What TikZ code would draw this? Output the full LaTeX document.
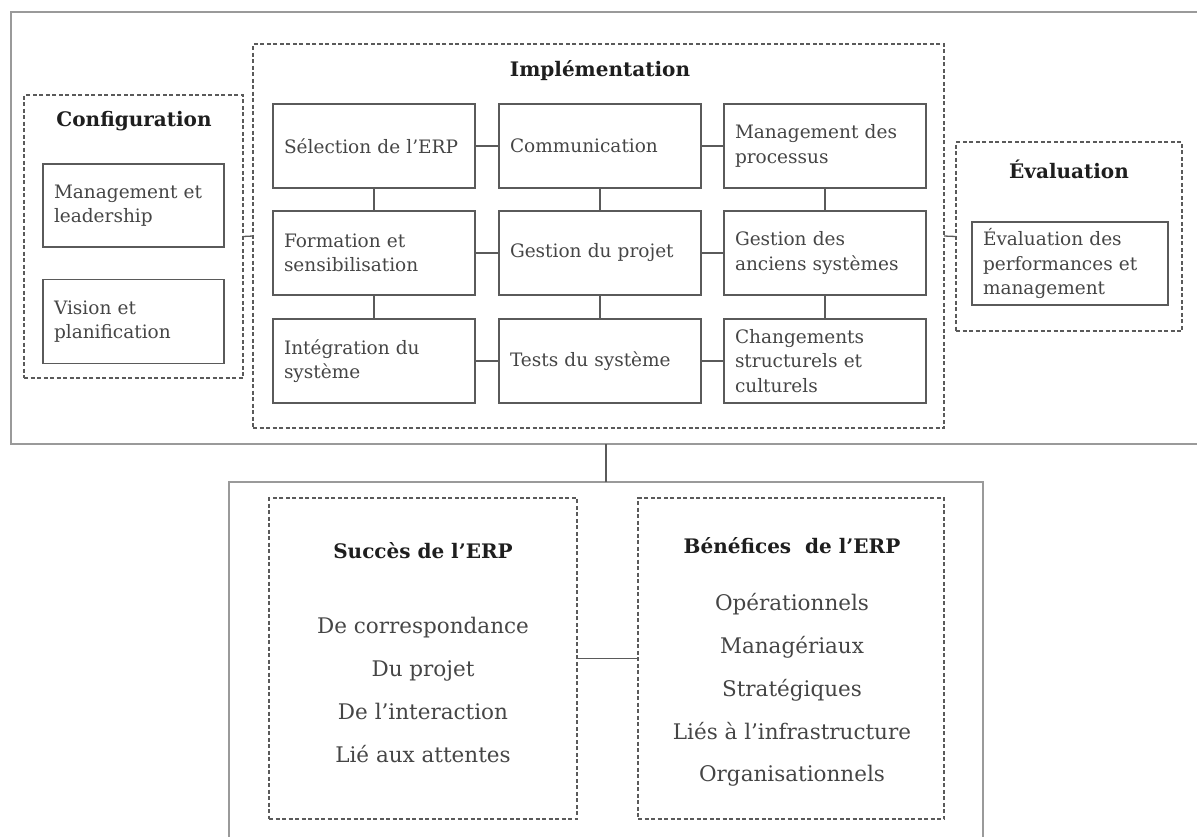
\documentclass[tikz,border=0pt]{standalone}
\usepackage{fontspec}
\setmainfont{DejaVu Serif}
\usetikzlibrary{positioning}
\definecolor{txt}{HTML}{454545}
\definecolor{ttl}{HTML}{1E1E1E}
\definecolor{edge}{HTML}{5A5A5A}
\definecolor{frame}{HTML}{9A9A9A}
\begin{document}
\begin{tikzpicture}[x=1pt,y=-1pt,
  every node/.style={outer sep=0pt},
  cell/.style={draw=edge,line width=1.3pt,minimum height=84pt,inner xsep=11pt,
    text width=180pt,align=left,text=txt,font=\fontsize{18.5}{24.5}\selectfont},
  side/.style={cell,text width=#1},
  group/.style={draw=edge,line width=1.2pt,dash pattern=on 4pt off 2.5pt},
  title/.style={text=ttl,font=\fontsize{20}{24}\selectfont\bfseries},
  item/.style={text=txt,align=center,font=\fontsize{21.5}{42.8}\selectfont},
  link/.style={draw=edge,line width=1.3pt},
  outerframe/.style={draw=frame,line width=2.4pt}]
\useasboundingbox (0,0) rectangle (1197,836);
\clip (0,0) rectangle (1197,836);

% outer frames (both run past the page edge)
\node[outerframe,anchor=north west,minimum width=1240pt,minimum height=432pt] (upper) at (11,12) {};
\node[outerframe,anchor=north,minimum width=754pt,minimum height=420pt] (lower) at (606,482) {};

% configuration
\node[group,minimum width=219pt,minimum height=283pt] (cfg) at (133.5,236.5) {};
\node[title] (cfgT) at (134,121) {Configuration};
\node[side=159pt,minimum height=83pt] (lead) at (133.5,205.5) {Management et\\leadership};
\node[side=159pt] (plan) at (133.5,321.5) {Vision et\\planification};

% implementation
\node[group,minimum width=691pt,minimum height=384pt] (impl) at (598.5,236) {};
\node[title] (implT) at (600,71) {Implémentation};
\node[cell] (sel)  at (374,146) {Sélection de l'ERP};
\node[cell] (com)  at (600,146) {Communication};
\node[cell] (proc) at (825,146) {Management des\\processus};
\node[cell] (form) at (374,253) {Formation et\\sensibilisation};
\node[cell] (proj) at (600,253) {Gestion du projet};
\node[cell] (old)  at (825,253) {Gestion des\\anciens systèmes};
\node[cell] (integ) at (374,361) {Intégration du\\système};
\node[cell] (test) at (600,361) {Tests du système};
\node[cell] (chg)  at (825,361) {Changements\\structurels et\\culturels};

% evaluation
\node[group,minimum width=226pt,minimum height=189pt] (eval) at (1069,236.5) {};
\node[title] (evalT) at (1069,169) {Évaluation};
\node[side=174pt,minimum height=83pt] (perf) at (1070,263.5) {Évaluation des\\performances et\\management};

% links inside the upper frame
\draw[link] (sel) -- (com);
\draw[link] (com) -- (proc);
\draw[link] (form) -- (proj);
\draw[link] (proj) -- (old);
\draw[link] (integ) -- (test);
\draw[link] (test) -- (chg);
\draw[link] (sel) -- (form);
\draw[link] (form) -- (integ);
\draw[link] (com) -- (proj);
\draw[link] (proj) -- (test);
\draw[link] (proc) -- (old);
\draw[link] (old) -- (chg);
\draw[link] (cfg.east) -- (impl.west);
\draw[link] (impl.east) -- (eval.west);

% link between the two frames
\draw[link] (lower.north) -- (lower.north |- upper.south);

% success and benefits
\node[group,minimum width=308pt,minimum height=321pt] (succ) at (423,658.5) {};
\node[title] (succT) at (423,551) {Succès de l'ERP};
\node[item] (succL) at (423,690) {De correspondance\\Du projet\\De l'interaction\\Lié aux attentes};

\node[group,minimum width=306pt,minimum height=321pt] (bene) at (791,658.5) {};
\node[title] (beneT) at (792,546) {Bénéfices\ \ de l'ERP};
\node[item] (beneL) at (792,690) {Opérationnels\\Managériaux\\Stratégiques\\Liés à l'infrastructure\\Organisationnels};

\draw[link] (succ.east) -- (bene.west);
\end{tikzpicture}
\end{document}
